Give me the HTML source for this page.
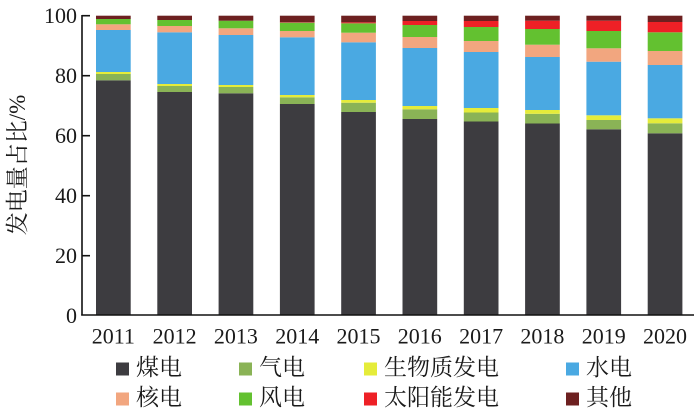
<!DOCTYPE html>
<html>
<head>
<meta charset="utf-8">
<style>
  html,body{margin:0;padding:0;background:#fff;}
  svg{display:block;}
  .num{font-family:"Liberation Serif","Noto Serif CJK SC",serif;font-size:22px;fill:#1a1a1a;}
  .cjk{font-family:"Liberation Serif","Noto Serif CJK SC",serif;font-size:23px;fill:#1a1a1a;}
</style>
</head>
<body>
<svg width="700" height="412" viewBox="0 0 700 412" xmlns="http://www.w3.org/2000/svg">
  <g id="bars"></g>
  <!-- axes -->
  <line x1="82" y1="15" x2="82" y2="315.5" stroke="#111" stroke-width="1.6"/>
  <line x1="81.2" y1="315" x2="694" y2="315" stroke="#111" stroke-width="1.6"/>
  <g stroke="#111" stroke-width="1.6">
    <line x1="82" y1="15.7" x2="90" y2="15.7"/>
    <line x1="82" y1="75.7" x2="90" y2="75.7"/>
    <line x1="82" y1="135.7" x2="90" y2="135.7"/>
    <line x1="82" y1="195.7" x2="90" y2="195.7"/>
    <line x1="82" y1="255.7" x2="90" y2="255.7"/>
  </g>
  <g class="num" text-anchor="end">
    <text x="77" y="23">100</text>
    <text x="77" y="83">80</text>
    <text x="77" y="143">60</text>
    <text x="77" y="203">40</text>
    <text x="77" y="263">20</text>
    <text x="77" y="323">0</text>
  </g>
  <g class="num" text-anchor="middle">
    <text x="113.3" y="343.3">2011</text>
    <text x="174.6" y="343.3">2012</text>
    <text x="235.9" y="343.3">2013</text>
    <text x="297.2" y="343.3">2014</text>
    <text x="358.5" y="343.3">2015</text>
    <text x="419.8" y="343.3">2016</text>
    <text x="481.1" y="343.3">2017</text>
    <text x="542.4" y="343.3">2018</text>
    <text x="603.7" y="343.3">2019</text>
    <text x="665" y="343.3">2020</text>
  </g>
  <text class="cjk" transform="translate(25,165) rotate(-90)" text-anchor="middle">发电量占比/%</text>

  <!-- legend -->
  <g class="cjk">
    <rect x="116" y="362.5" width="13" height="13" fill="#3d3c40"/><text x="136" y="375">煤电</text>
    <rect x="239" y="362.5" width="13" height="13" fill="#8ab356"/><text x="259" y="375">气电</text>
    <rect x="364" y="362.5" width="13" height="13" fill="#e5ec3a"/><text x="384" y="375">生物质发电</text>
    <rect x="566" y="362.5" width="13" height="13" fill="#4aa9e2"/><text x="586" y="375">水电</text>
    <rect x="116" y="392.5" width="13" height="13" fill="#f2a67f"/><text x="136" y="405">核电</text>
    <rect x="239" y="392.5" width="13" height="13" fill="#63c130"/><text x="259" y="405">风电</text>
    <rect x="364" y="392.5" width="13" height="13" fill="#ee2026"/><text x="384" y="405">太阳能发电</text>
    <rect x="566" y="392.5" width="13" height="13" fill="#6d2020"/><text x="586" y="405">其他</text>
  </g>
</svg>
<script>
(function(){
  var colors=["#3d3c40","#8ab356","#e5ec3a","#4aa9e2","#f2a67f","#63c130","#ee2026","#6d2020"];
  // tops (y px) of each segment, bottom to top
  var data=[
    [80.3,74,72,30,24.3,19,19,15.7],
    [92,86,84,32.3,26,20,20,15.7],
    [93.3,87,85,35,28.3,20.7,20.7,15.7],
    [104,97.3,95,37.3,31,22.7,22.3,15.7],
    [112,102.7,100,42.3,32.7,23.3,22.3,15.7],
    [119,109.3,106,48,37,25,21,15.7],
    [121.5,112.5,108,52,41,27,21,15.7],
    [123.5,113.8,110,57,44.7,29,20.7,15.7],
    [129.3,120,115.3,61.7,48.3,31,20.7,15.7],
    [133.3,123.3,118.3,65,51,32.3,22,15.7]
  ];
  var g=document.getElementById("bars");
  var ns="http://www.w3.org/2000/svg";
  for(var i=0;i<data.length;i++){
    var x=96+61.3*i, bottom=315;
    for(var k=0;k<8;k++){
      var top=data[i][k];
      var h=bottom-top;
      if(h>0.05){
        var r=document.createElementNS(ns,"rect");
        r.setAttribute("x",x.toFixed(2));
        r.setAttribute("y",top.toFixed(2));
        r.setAttribute("width","34.7");
        r.setAttribute("height",h.toFixed(2));
        r.setAttribute("fill",colors[k]);
        g.appendChild(r);
      }
      bottom=top;
    }
  }
})();
</script>
</body>
</html>
